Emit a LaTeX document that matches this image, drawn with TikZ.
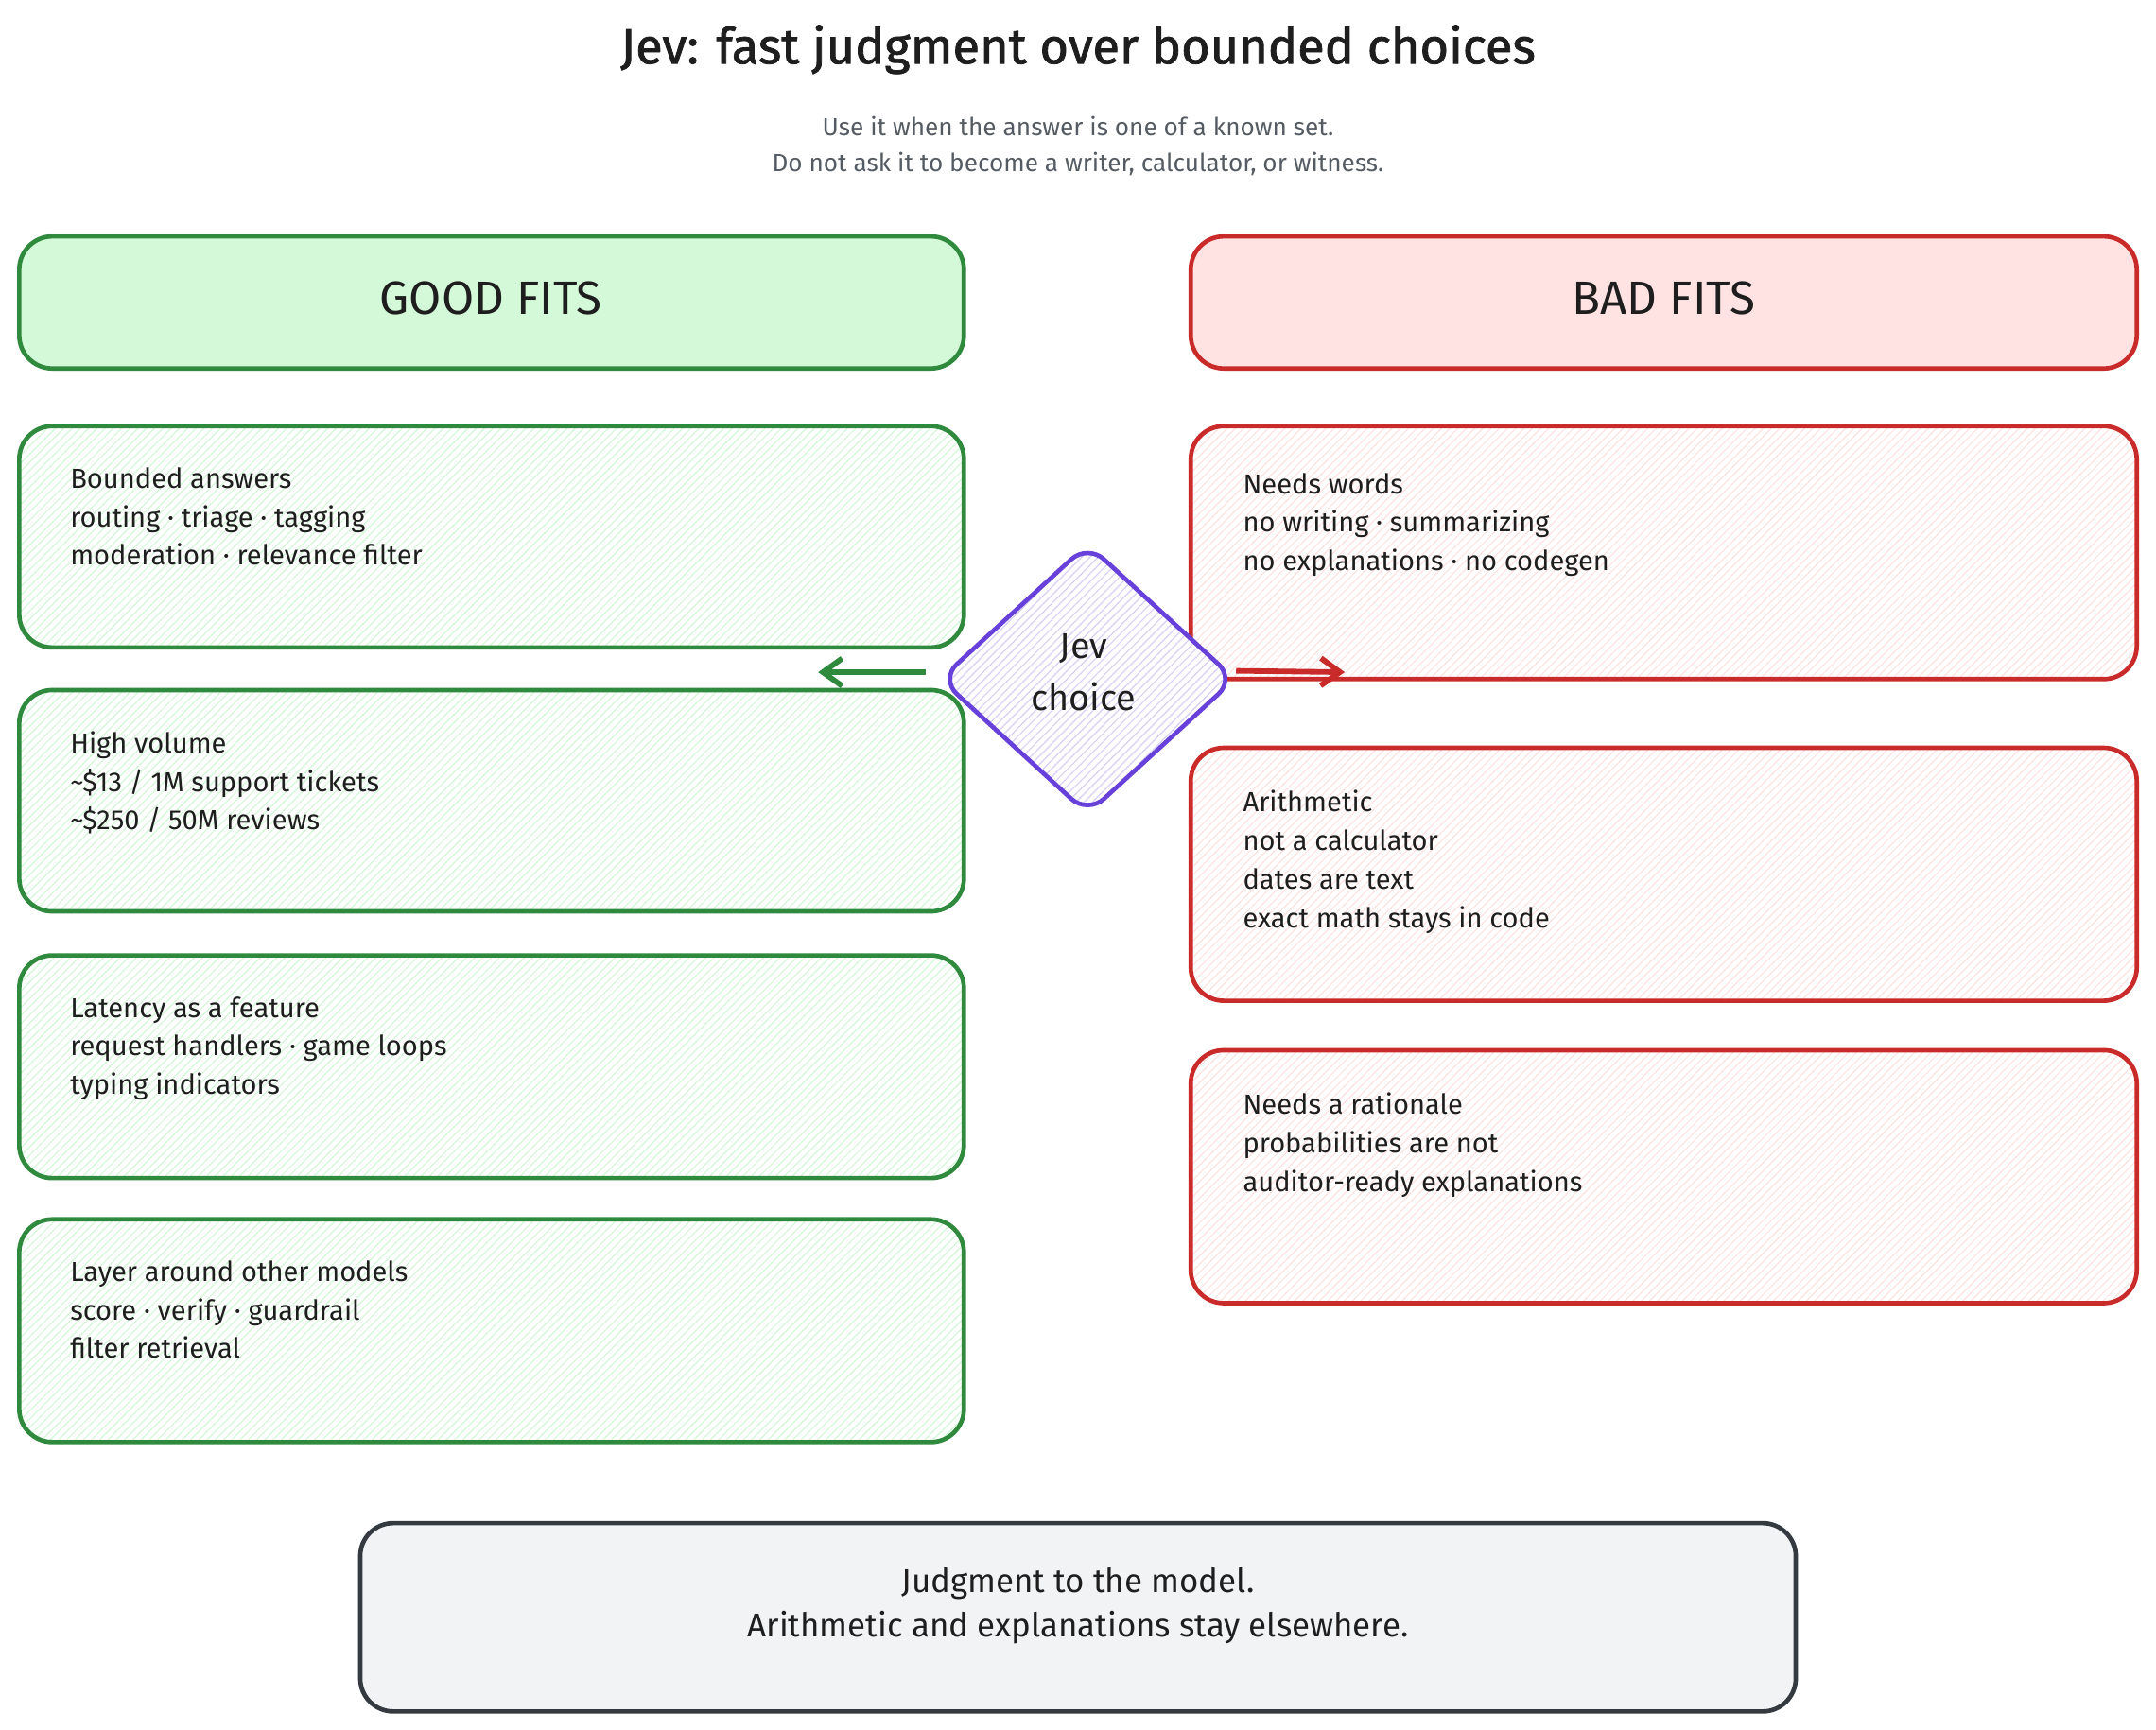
\documentclass[tikz,border=0pt]{standalone}
\usepackage{fontspec}
\setmainfont{Fira Sans}
\usetikzlibrary{shapes.geometric,patterns,arrows.meta}
\definecolor{gstroke}{HTML}{2F8A3E}
\definecolor{gfill}{HTML}{D3F9D8}
\definecolor{rstroke}{HTML}{C92A2A}
\definecolor{rfill}{HTML}{FFE3E3}
\definecolor{pstroke}{HTML}{6741D9}
\definecolor{dstroke}{HTML}{343A40}
\definecolor{bfill}{HTML}{F1F3F5}
\definecolor{txt}{HTML}{1E1E1E}
\definecolor{sub}{HTML}{555B62}
\tikzset{
 box/.style={draw, line width=1.6pt, rounded corners=12pt, inner sep=0pt},
 gbox/.style={box, draw=gstroke, preaction={fill=white}, preaction={pattern=north east lines, pattern color=gfill}},
 rbox/.style={box, draw=rstroke, preaction={fill=white}, preaction={pattern=north east lines, pattern color=rfill}},
 hdr/.style={font=\fontsize{17}{20}\selectfont, text=txt},
 body/.style={font=\fontsize{10}{14}\selectfont, text=txt, align=left, anchor=north west},
}
\begin{document}
\begin{tikzpicture}[x=0.5pt,y=-0.5pt]
\useasboundingbox (0,0) rectangle (1568,1258);
\node[font=\fontsize{18}{22}\selectfont\addfontfeature{FakeBold=1.5}, text=txt] (title) at (784,36) {Jev: fast judgment over bounded choices};
\node[font=\fontsize{9}{13}\selectfont, text=sub, align=center] (subtitle) at (784,106) {Use it when the answer is one of a known set.\\Do not ask it to become a writer, calculator, or witness.};
% headers
\draw[box, draw=gstroke, fill=gfill] (14,172) rectangle (701,268);
\node[hdr] (good) at (357,217) {GOOD FITS};
\draw[box, draw=rstroke, fill=rfill] (866,172) rectangle (1554,268);
\node[hdr] (bad) at (1210,217) {BAD FITS};
% green boxes
\draw[gbox] (14,310) rectangle (701,471);
\node[body] (g1) at (44,333) {Bounded answers\\routing · triage · tagging\\moderation · relevance filter};
\draw[gbox] (14,502) rectangle (701,663);
\node[body] (g2) at (44,525) {High volume\\\textasciitilde\$13 / 1M support tickets\\\textasciitilde\$250 / 50M reviews};
\draw[gbox] (14,695) rectangle (701,857);
\node[body] (g3) at (44,718) {Latency as a feature\\request handlers · game loops\\typing indicators};
\draw[gbox] (14,887) rectangle (701,1049);
\node[body] (g4) at (44,910) {Layer around other models\\score · verify · guardrail\\filter retrieval};
% red boxes
\draw[rbox] (866,310) rectangle (1554,494);
\node[body] (r1) at (897,337) {Needs words\\no writing · summarizing\\no explanations · no codegen};
\draw[rbox] (866,544) rectangle (1554,728);
\node[body] (r2) at (897,568) {Arithmetic\\not a calculator\\dates are text\\exact math stays in code};
\draw[rbox] (866,764) rectangle (1554,948);
\node[body] (r3) at (897,788) {Needs a rationale\\probabilities are not\\auditor-ready explanations};
% diamond
\draw[line width=1.6pt, draw=pstroke, rounded corners=8pt, preaction={fill=white}, preaction={pattern=north east lines, pattern color=pstroke!25}] (791,396) -- (898,494) -- (791,592) -- (684,494) -- cycle;
\node[font=\fontsize{13}{19}\selectfont, text=txt, align=center] (jev) at (788,489) {Jev\\choice};
\coordinate (gl) at (673,489); \coordinate (gr) at (595,489);
\coordinate (rl) at (899,488); \coordinate (rr) at (978,489);
\draw[-{Straight Barb[length=7pt,width=10pt]}, line width=2pt, gstroke] (gl) -- (gr);
\draw[-{Straight Barb[length=7pt,width=10pt]}, line width=2pt, rstroke] (rl) -- (rr);
% bottom
\draw[box, draw=dstroke, fill=bfill] (262,1108) rectangle (1306,1245);
\node[font=\fontsize{12}{16}\selectfont, text=txt, align=center] (foot) at (784,1168) {Judgment to the model.\\Arithmetic and explanations stay elsewhere.};
\end{tikzpicture}
\end{document}
